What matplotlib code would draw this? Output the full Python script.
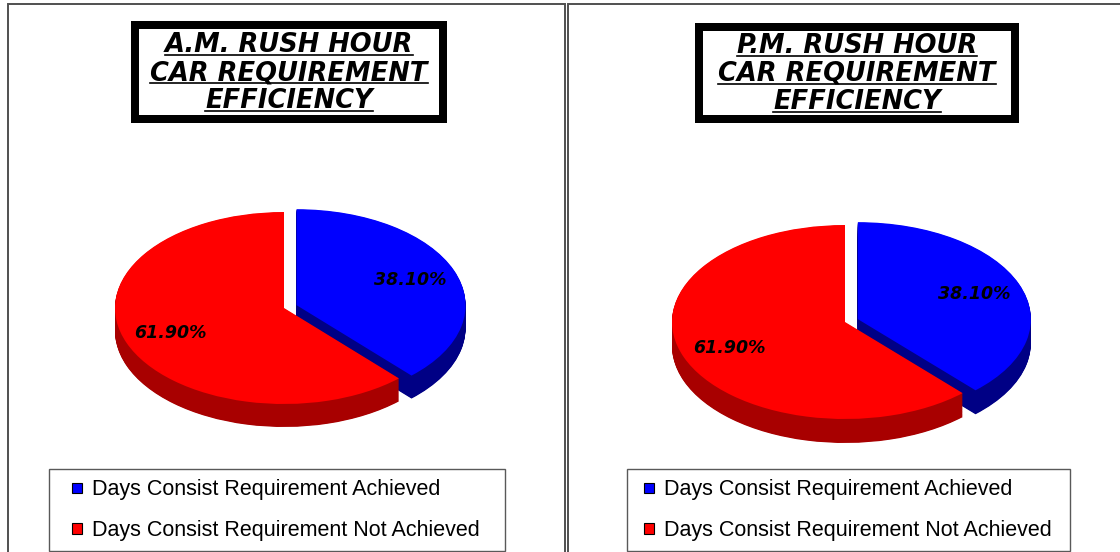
#Rush hour car requirement efficiency, A.M. vs P.M.

import numpy as np
import matplotlib
matplotlib.use('Agg')
import matplotlib.pyplot as plt
from matplotlib.patches import Rectangle
from matplotlib.lines import Line2D
from matplotlib.legend_handler import HandlerPatch


OUT_PATH = 'out.png'
W, H = 1120, 552

CATEGORIES = ['Days Consist Requirement Achieved',
              'Days Consist Requirement Not Achieved']
AM_VALUES = [38.1, 61.9]
PM_VALUES = [38.1, 61.9]
AM_TITLE = ['A.M. RUSH HOUR', 'CAR REQUIREMENT', 'EFFICIENCY']
PM_TITLE = ['P.M. RUSH HOUR', 'CAR REQUIREMENT', 'EFFICIENCY']

TOP_COLORS = ['#0000ff', '#ff0000']
SIDE_COLORS = ['#000085', '#a80000']
EXPLODE = [0.08, 0]

#layout in pixels (from top-left)
PANELS = [
    dict(values=AM_VALUES, title=AM_TITLE,
         frame=(8, 4, 565), title_box=(131, 21, 447, 123), title_cx=289,
         baselines=(52, 80, 108),
         pie=(284, 308, 169, 96, 23),
         legend=(49, 469, 505), marker_left=23),
    dict(values=PM_VALUES, title=PM_TITLE,
         frame=(568, 4, 1126), title_box=(695, 23, 1019, 123), title_cx=857,
         baselines=(53, 81, 109),
         pie=(845, 322, 173, 97, 24),
         legend=(627, 469, 1070), marker_left=17),
]

LEG_FS = 15.5
LEG_FS_PX = LEG_FS * 100 / 72
BORDERPAD = 0.48


def fx(px):
    return px / W


def fy(py):
    return 1 - py / H


def square(legend, orig_handle, xdescent, ydescent, width, height, fontsize):
    s = 7.4
    return Rectangle((width - s - xdescent, (height - s) / 2 - ydescent), s, s)


def draw_pie(fig, values, cx, cy, a, b, depth):
    left, right, top, bottom = cx - 230, cx + 230, cy - 130, cy + 150
    ax = fig.add_axes([fx(left), fy(bottom), (right - left) / W, (bottom - top) / H])
    d = depth / b
    #extruded side: stack of darker pies shifted down
    for off in np.linspace(d, 0, 40, endpoint=False):
        ax.pie(values, colors=SIDE_COLORS, explode=EXPLODE, startangle=90,
               counterclock=False, center=(0, -off),
               wedgeprops=dict(linewidth=0))
    ax.pie(values, colors=TOP_COLORS, explode=EXPLODE, startangle=90,
           counterclock=False, autopct='%.2f%%', pctdistance=0.72,
           wedgeprops=dict(linewidth=0),
           textprops=dict(fontsize=12.5, fontweight='bold', fontstyle='oblique',
                          color='black', family='DejaVu Sans'))
    ax.set_aspect('auto')
    ax.set_xlim(-(cx - left) / a, (right - cx) / a)
    ax.set_ylim(-(bottom - cy) / b, (cy - top) / b)
    return ax


def main():
    fig = plt.figure(figsize=(W / 100, H / 100), dpi=100)
    titles = []

    for p in PANELS:
        x0, y0, x1 = p['frame']
        fig.add_artist(Rectangle((fx(x0), fy(700)), fx(x1) - fx(x0), fy(y0) - fy(700),
                                 fill=False, edgecolor='#505050', linewidth=1.4,
                                 transform=fig.transFigure))

        bx0, by0, bx1, by1 = p['title_box']
        fig.add_artist(Rectangle((fx(bx0 + 4), fy(by1 - 4)),
                                 (bx1 - bx0 - 8) / W, (by1 - by0 - 8) / H,
                                 facecolor='white', edgecolor='black',
                                 linewidth=8 * 72 / 100, transform=fig.transFigure))
        for line, base in zip(p['title'], p['baselines']):
            t = fig.text(fx(p['title_cx']), fy(base), line, ha='center', va='baseline',
                         fontsize=18.5, fontweight='bold', fontstyle='oblique',
                         family='DejaVu Sans')
            titles.append((t, base))

        cx, cy, a, b, depth = p['pie']
        draw_pie(fig, p['values'], cx, cy, a, b, depth)

        lx0, ly0, lx1 = p['legend']
        handles = [Rectangle((0, 0), 1, 1, facecolor=c, edgecolor='black', linewidth=0.8)
                   for c in TOP_COLORS]
        pad_px = BORDERPAD * LEG_FS_PX
        hl = (p['marker_left'] + 10 - pad_px) / LEG_FS_PX
        leg = fig.legend(handles, CATEGORIES, loc='upper left',
                         bbox_to_anchor=(fx(lx0), fy(551), (lx1 - lx0) / W, (551 - ly0) / H),
                         mode='expand', borderaxespad=0, borderpad=BORDERPAD,
                         labelspacing=0.92, handlelength=hl, handleheight=0.7,
                         handletextpad=0.45, fancybox=False, shadow=False,
                         prop=dict(family='Liberation Sans', size=LEG_FS),
                         handler_map={Rectangle: HandlerPatch(patch_func=square)})
        leg.get_frame().set_edgecolor('#303030')
        leg.get_frame().set_linewidth(1.0)

    #underline the title lines
    fig.canvas.draw()
    renderer = fig.canvas.get_renderer()
    for t, base in titles:
        bb = t.get_window_extent(renderer)
        fig.add_artist(Line2D([bb.x0 / W, bb.x1 / W], [fy(base + 3)] * 2,
                              color='black', linewidth=1.2,
                              transform=fig.transFigure))

    fig.savefig(OUT_PATH, dpi=100)
    plt.close(fig)


if __name__ == '__main__':
    main()
